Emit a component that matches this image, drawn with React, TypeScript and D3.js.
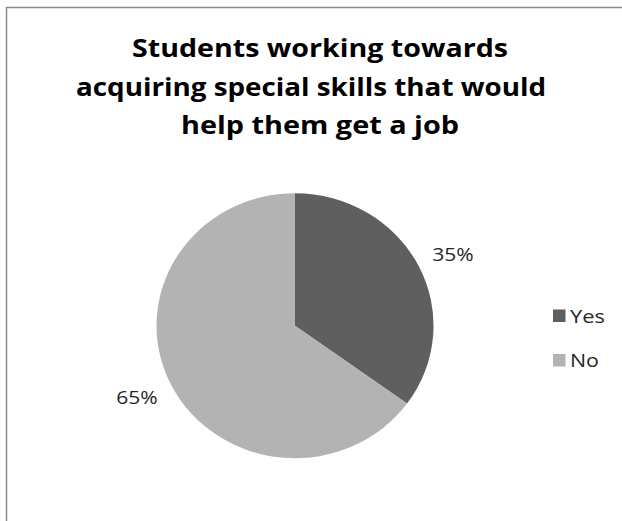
import React from "react";
import * as d3 from "d3";

const categories = ["Yes", "No"];
const values = [35, 65];
const colors = ["#5f5f5f", "#b3b3b3"];
const titleLines = ["Students working towards", "acquiring special skills that would", "help them get a job"];

const FONT = "'Open Sans', Lato, sans-serif";

export default function App() {
  const W = 622, H = 521;
  const cx = 295, cy = 325.7, rx = 138.5, ry = 132.5;
  const pie = d3.pie<number>().sort(null).value((d) => d)(values);
  const arc = d3.arc<d3.PieArcDatum<number>>().innerRadius(0).outerRadius(1);
  const labelPos = (d: d3.PieArcDatum<number>) => {
    const a = (d.startAngle + d.endAngle) / 2;
    return [cx + Math.sin(a) * rx * 1.28, cy - Math.cos(a) * ry * 1.19];
  };
  const titleX = [132, 76, 181];
  const titleWidths = [376, 470, 278];
  return (
    <svg width={W} height={H} style={{ position: "absolute", left: 0, top: 0 }} xmlns="http://www.w3.org/2000/svg">
      <rect x={0} y={0} width={W} height={H} fill="#fff" />
      <path d={`M6.5,${H} V7.5 H${W}`} fill="none" stroke="#8a8a8a" strokeWidth={1.5} />
      {titleLines.map((t, i) => (
        <text key={i} x={titleX[i]} y={57.3 + i * 38.5} fontFamily={FONT} fontWeight="bold" fontSize={24.5} fill="#000" textLength={titleWidths[i]} lengthAdjust="spacingAndGlyphs">
          {t}
        </text>
      ))}
      <g transform={`translate(${cx},${cy}) scale(${rx},${ry})`}>
        {pie.map((d, i) => (
          <path key={i} d={arc(d) || ""} fill={colors[i]} />
        ))}
      </g>
      {pie.map((d, i) => {
        const [x, y] = labelPos(d);
        return (
          <text key={i} x={x} y={y + 6.6} textAnchor="middle" fontFamily={FONT} fontSize={18} fill="#262626" textLength={41.5} lengthAdjust="spacingAndGlyphs">
            {values[i]}%
          </text>
        );
      })}
      {categories.map((c, i) => (
        <g key={c} transform={`translate(553,${309.5 + i * 44.5})`}>
          <rect x={0} y={0} width={12.5} height={12.5} fill={colors[i]} />
          <text x={17} y={13} fontFamily={FONT} fontSize={18.5} fill="#262626" textLength={c === "Yes" ? 35 : 29} lengthAdjust="spacingAndGlyphs">
            {c}
          </text>
        </g>
      ))}
    </svg>
  );
}
